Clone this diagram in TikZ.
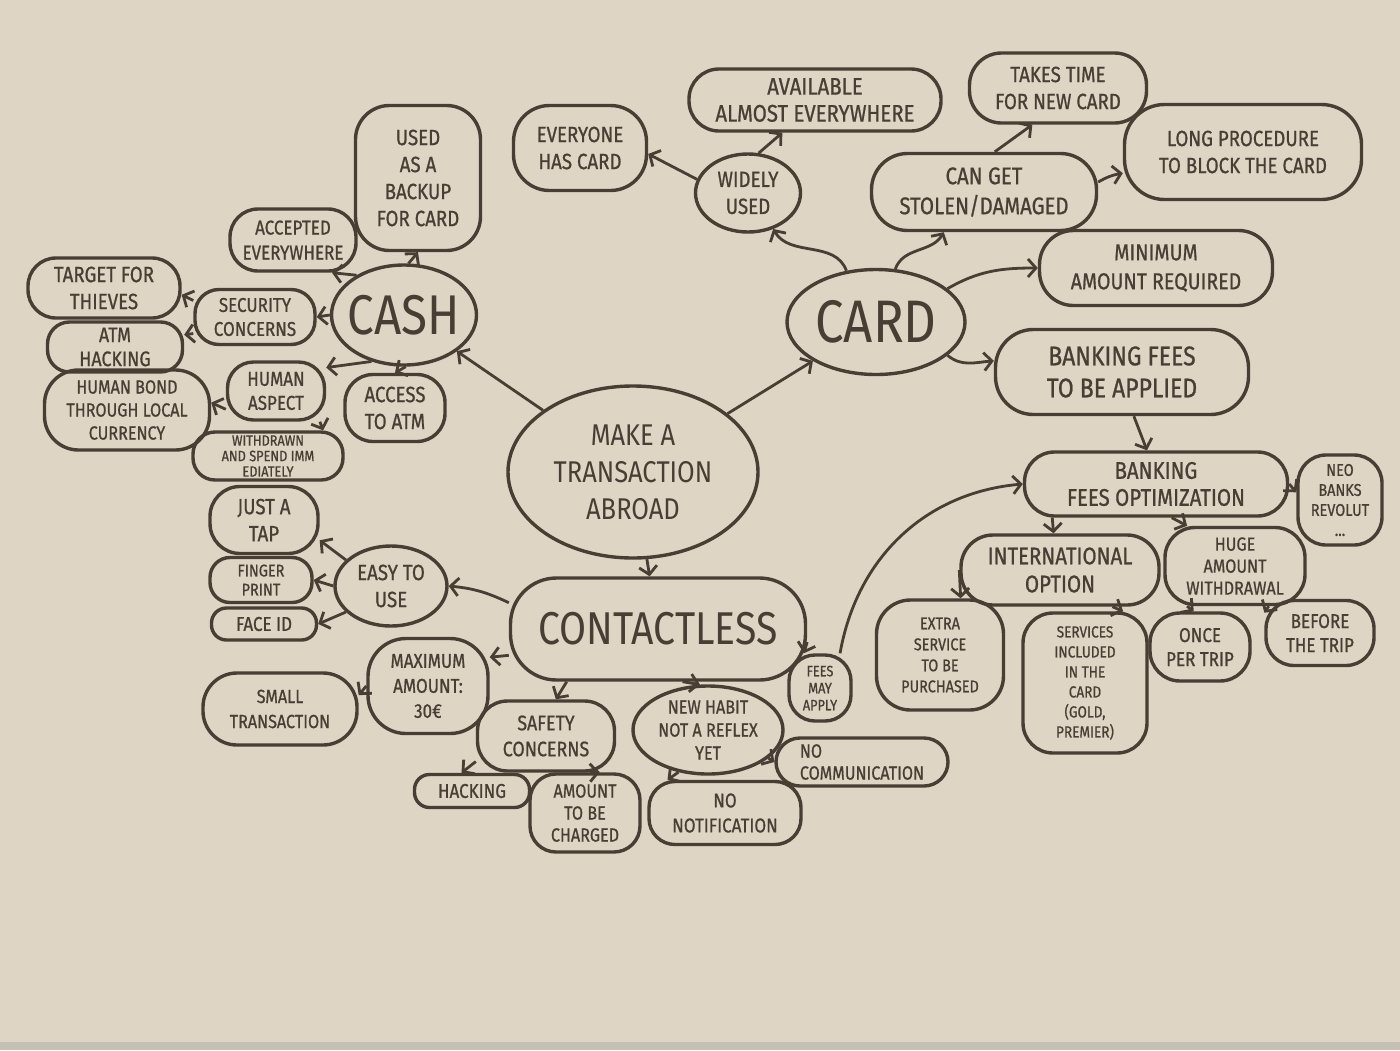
\documentclass[tikz,border=0pt]{standalone}
\usepackage{fontspec}
\usetikzlibrary{shapes.geometric,arrows.meta}
\newfontfamily\hand[FakeStretch=0.85,FakeBold=0.8]{Fira Sans}
\newfontfamily\bighand[FakeStretch=0.85]{Fira Sans}
\newcommand{\handsize}[2]{\hand\fontsize{#1}{#2}\selectfont}
\newcommand{\bigsize}[2]{\bighand\fontsize{#1}{#2}\selectfont}
\definecolor{paper}{RGB}{222,213,197}
\definecolor{ink}{RGB}{72,62,52}
\tikzset{
  bubble/.style={draw=ink, line width=3.4pt, rounded corners=24pt, align=center, inner sep=0pt, text=ink, font=\handsize{22}{27}},
  blob/.style={bubble, ellipse},
  arr/.style={draw=ink, line width=2.8pt, -{Straight Barb[length=8pt,width=18pt]}}
}
\begin{document}
\begin{tikzpicture}[x=1pt,y=-1pt]
  \fill[paper] (0,0) rectangle (1400,1050);
  \useasboundingbox (0,0) rectangle (1400,1050);
  \fill[paper!75!gray] (0,1042) rectangle (1400,1050);

  \node[blob, minimum width=250pt, minimum height=172pt, font=\bigsize{30}{37}] (trans) at (633,472) {MAKE A\\TRANSACTION\\ABROAD};
  \node[blob, minimum width=145pt, minimum height=100pt, inner xsep=-10pt, font=\bigsize{56}{60}] (cash) at (404,315) {CASH};
  \node[blob, minimum width=178pt, minimum height=105pt, inner xsep=-8pt, font=\bigsize{60}{64}] (card) at (876,322) {CARD};
  \node[bubble, minimum width=295pt, minimum height=102pt, rounded corners=46pt, font=\bigsize{46}{50}] (contact) at (658,629) {CONTACTLESS};

  \node[bubble, minimum width=125pt, minimum height=145pt, rounded corners=34pt] (backup) at (418,178) {USED\\AS A\\BACKUP\\FOR CARD};
  \node[bubble, minimum width=126pt, minimum height=62pt, rounded corners=28pt, font=\handsize{20}{25}] (accepted) at (293,240) {ACCEPTED\\EVERYWHERE};
  \node[bubble, minimum width=120pt, minimum height=55pt, rounded corners=24pt, font=\handsize{20}{24}] (security) at (255,317) {SECURITY\\CONCERNS};
  \node[bubble, minimum width=152pt, minimum height=60pt, rounded corners=28pt] (thieves) at (104,288) {TARGET FOR\\THIEVES};
  \node[bubble, minimum width=135pt, minimum height=50pt, rounded corners=22pt, font=\handsize{21}{24}] (atmhack) at (115,347) {ATM\\HACKING};
  \node[bubble, minimum width=97pt, minimum height=58pt, rounded corners=26pt, font=\handsize{20}{24}] (human) at (276,391) {HUMAN\\ASPECT};
  \node[bubble, minimum width=165pt, minimum height=80pt, rounded corners=34pt, font=\handsize{19}{23}] (bond) at (127,410) {HUMAN BOND\\THROUGH LOCAL\\CURRENCY};
  \node[bubble, minimum width=150pt, minimum height=48pt, rounded corners=22pt, font=\handsize{15}{15.5}] (spend) at (268,456) {WITHDRAWN\\AND SPEND IMM\\EDIATELY};
  \node[bubble, minimum width=100pt, minimum height=67pt, rounded corners=28pt] (atm) at (395,408) {ACCESS\\TO ATM};

  \node[blob, minimum width=105pt, minimum height=78pt] (widely) at (748,193) {WIDELY\\USED};
  \node[bubble, minimum width=133pt, minimum height=85pt, rounded corners=36pt] (everyone) at (580,148) {EVERYONE\\HAS CARD};
  \node[bubble, minimum width=252pt, minimum height=62pt, rounded corners=30pt, font=\handsize{24}{27}] (available) at (815,100) {AVAILABLE\\ALMOST EVERYWHERE};
  \node[bubble, minimum width=225pt, minimum height=77pt, rounded corners=36pt, font=\handsize{24}{30}] (stolen) at (984,192) {CAN GET\\STOLEN/DAMAGED};
  \node[bubble, minimum width=177pt, minimum height=70pt, rounded corners=32pt] (newcard) at (1058,88) {TAKES TIME\\FOR NEW CARD};
  \node[bubble, minimum width=237pt, minimum height=95pt, rounded corners=40pt] (block) at (1243,152) {LONG PROCEDURE\\TO BLOCK THE CARD};
  \node[bubble, minimum width=233pt, minimum height=75pt, rounded corners=34pt, font=\handsize{23}{29}] (minimum) at (1156,268) {MINIMUM\\AMOUNT REQUIRED};
  \node[bubble, minimum width=253pt, minimum height=85pt, rounded corners=38pt, font=\handsize{27}{32}] (fees) at (1122,372) {BANKING FEES\\TO BE APPLIED};
  \node[bubble, minimum width=263pt, minimum height=64pt, rounded corners=30pt, font=\handsize{24}{27}] (optim) at (1156,484) {BANKING\\FEES OPTIMIZATION};
  \node[bubble, minimum width=84pt, minimum height=90pt, rounded corners=28pt, font=\handsize{17}{20}] (neo) at (1340,500) {NEO\\BANKS\\REVOLUT\\...};
  \node[bubble, minimum width=198pt, minimum height=70pt, rounded corners=32pt, font=\handsize{24}{28}] (intl) at (1060,570) {INTERNATIONAL\\OPTION};
  \node[bubble, minimum width=140pt, minimum height=77pt, rounded corners=30pt, font=\handsize{19}{22}] (huge) at (1235,566) {HUGE\\AMOUNT\\WITHDRAWAL};
  \node[bubble, minimum width=127pt, minimum height=110pt, rounded corners=34pt, font=\handsize{17}{21}] (extra) at (940,655) {EXTRA\\SERVICE\\TO BE\\PURCHASED};
  \node[bubble, minimum width=124pt, minimum height=140pt, rounded corners=30pt, font=\handsize{16}{20}] (included) at (1085,683) {SERVICES\\INCLUDED\\IN THE\\CARD\\(GOLD,\\PREMIER)};
  \node[bubble, minimum width=100pt, minimum height=68pt, rounded corners=30pt, font=\handsize{20}{24}] (once) at (1200,647) {ONCE\\PER TRIP};
  \node[bubble, minimum width=108pt, minimum height=65pt, rounded corners=28pt, font=\handsize{20}{24}] (before) at (1320,633) {BEFORE\\THE TRIP};

  \node[blob, minimum width=112pt, minimum height=80pt, inner xsep=-4pt] (easy) at (391,586) {EASY TO\\USE};
  \node[bubble, minimum width=108pt, minimum height=67pt, rounded corners=30pt] (tap) at (264,520) {JUST A\\TAP};
  \node[bubble, minimum width=102pt, minimum height=45pt, rounded corners=20pt, font=\handsize{17}{19}] (finger) at (261,580) {FINGER\\PRINT};
  \node[bubble, minimum width=105pt, minimum height=32pt, rounded corners=15pt, font=\handsize{20}{24}] (faceid) at (264,624) {FACE ID};
  \node[bubble, minimum width=120pt, minimum height=95pt, rounded corners=38pt, font=\handsize{20}{25}] (maxamount) at (428,686) {MAXIMUM\\AMOUNT:\\30€};
  \node[bubble, minimum width=154pt, minimum height=72pt, rounded corners=34pt, font=\handsize{19}{25}] (smalltx) at (280,709) {SMALL\\TRANSACTION};
  \node[bubble, minimum width=137pt, minimum height=70pt, rounded corners=30pt, font=\handsize{21}{26}] (safety) at (546,736) {SAFETY\\CONCERNS};
  \node[bubble, minimum width=115pt, minimum height=33pt, rounded corners=15pt, font=\handsize{20}{24}] (hacking) at (472,791) {HACKING};
  \node[bubble, minimum width=110pt, minimum height=78pt, rounded corners=26pt, font=\handsize{19}{22}] (charged) at (585,813) {AMOUNT\\TO BE\\CHARGED};
  \node[blob, minimum width=150pt, minimum height=88pt, inner xsep=-5pt, font=\handsize{19}{23}] (habit) at (708,730) {NEW HABIT\\NOT A REFLEX\\YET};
  \node[bubble, minimum width=172pt, minimum height=48pt, rounded corners=24pt, font=\handsize{19}{22}, align=left] (nocomm) at (862,762) {NO\\COMMUNICATION};
  \node[bubble, minimum width=152pt, minimum height=63pt, rounded corners=26pt, font=\handsize{20}{25}] (nonotif) at (725,813) {NO\\NOTIFICATION};
  \node[bubble, minimum width=62pt, minimum height=66pt, rounded corners=26pt, font=\handsize{15}{17}] (mayapply) at (820,688) {FEES\\MAY\\APPLY};

  \draw[arr] (trans) -- (cash);
  \draw[arr] (trans) -- (card);
  \draw[arr] (trans) -- (contact);

  \draw[arr] (cash.85) -- (backup.south);
  \draw[arr] (cash.140) -- (accepted.-40);
  \draw[arr] (cash.west) -- (security.east);
  \draw[arr] (security.165) -- (thieves.-5);
  \draw[arr] (security.195) -- (atmhack.10);
  \draw[arr] (cash.235) -- (human.25);
  \draw[arr] (human.200) -- (bond.5);
  \draw[arr] (human.-35) -- (spend.25);
  \draw[arr] (cash.-88) -- (atm.north);

  \draw[arr] (card.120) to[out=110,in=-60] (widely.-55);
  \draw[arr] (widely.165) -- (everyone.-5);
  \draw[arr] (widely.75) -- (available.-135);
  \draw[arr] (card.70) to[out=70,in=-120] (stolen.-135);
  \draw[arr] (stolen.75) -- (newcard.-125);
  \draw[arr] (stolen.5) to[bend left=10] (block.190);
  \draw[arr] (card.25) to[out=30,in=180] (minimum.west);
  \draw[arr] (card.-25) to[out=-40,in=185] (fees.175);
  \draw[arr] (fees.-75) -- (optim.105);
  \draw[arr] (optim.east) -- (neo.170);
  \draw[arr] (optim.-162) -- (intl.100);
  \draw[arr] (optim.-65) -- (huge.140);
  \draw[arr] (intl.west) -- (extra.70);
  \draw[arr] (intl.-35) -- (included.62);
  \draw[arr] (huge.-140) -- (once.100);
  \draw[arr] (huge.-50) -- (before.160);

  \draw[arr] (contact.170) to[bend right=10] (easy.east);
  \draw[arr] (easy.150) -- (tap.-20);
  \draw[arr] (easy.west) -- (finger.east);
  \draw[arr] (easy.210) -- (faceid.east);
  \draw[arr] (contact.190) -- (maxamount.25);
  \draw[arr] (maxamount.west) -- (smalltx.10);
  \draw[arr] (contact.-150) -- (safety.75);
  \draw[arr] (contact.-65) -- (habit.100);
  \draw[arr] (contact.-5) -- (mayapply.115);
  \draw[arr] (mayapply.60) to[out=80,in=185] (optim.west);
  \draw[arr] (safety.200) -- (hacking.120);
  \draw[arr] (safety.-40) -- (charged.70);
  \draw[arr] (habit.-125) -- (nonotif.150);
  \draw[arr] (habit.-25) -- (nocomm.180);
\end{tikzpicture}
\end{document}
